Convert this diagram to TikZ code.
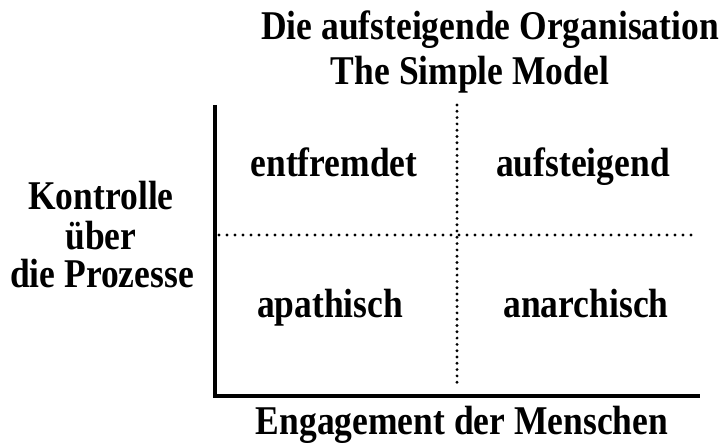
\documentclass[tikz,border=0pt]{standalone}
\usepackage{fontspec}
\setmainfont{Liberation Serif}
\usepackage{graphicx}
\usepackage{tikz}
\usetikzlibrary{calc}

\newcommand{\tall}[1]{\scalebox{1}[1.15]{#1}}

\begin{document}
\begin{tikzpicture}[x=1pt,y=1pt,
    lbl/.style={anchor=base,inner sep=0pt,font=\bfseries\fontsize{35.5}{40}\selectfont},
    axis/.style={line width=3.6pt},
    dotline/.style={line width=3.2pt,line cap=round,dash pattern=on 0pt off 8pt}]
        \useasboundingbox (0,0) rectangle (722,444);
        \draw (215,48) coordinate (o);
        \draw (215,339) coordinate (ytop);
        \draw (700,48) coordinate (xend);
        \draw (219,209) coordinate (hl);
        \draw (698,209) coordinate (hr);
        \draw (457,339) coordinate (vt);
        \draw (457,57) coordinate (vb);
        \draw[axis] (ytop)--(o)--(xend);
        \draw[dotline] (hl)--(hr);
        \draw[dotline,dash pattern=on 0pt off 6.3pt] (vt)--(vb);
        \node[lbl] (title1) at (490,404){\tall{Die aufsteigende Organisation}};
        \node[lbl] (title2) at (470,359){\tall{The Simple Model}};
        \node[lbl] (ent) at (334,267){\tall{entfremdet}};
        \node[lbl] (auf) at (583,267){\tall{aufsteigend}};
        \node[lbl] (apa) at (330,126){\tall{apathisch}};
        \node[lbl] (ana) at (586,126){\tall{anarchisch}};
        \node[lbl] (kon) at (101,234){\tall{Kontrolle}};
        \node[lbl] (ueb) at (101,194){\tall{über}};
        \node[lbl] (proz) at (102,156){\tall{die Prozesse}};
        \node[lbl] (eng) at (462,10){\tall{Engagement der Menschen}};
    \end{tikzpicture}
\end{document}
